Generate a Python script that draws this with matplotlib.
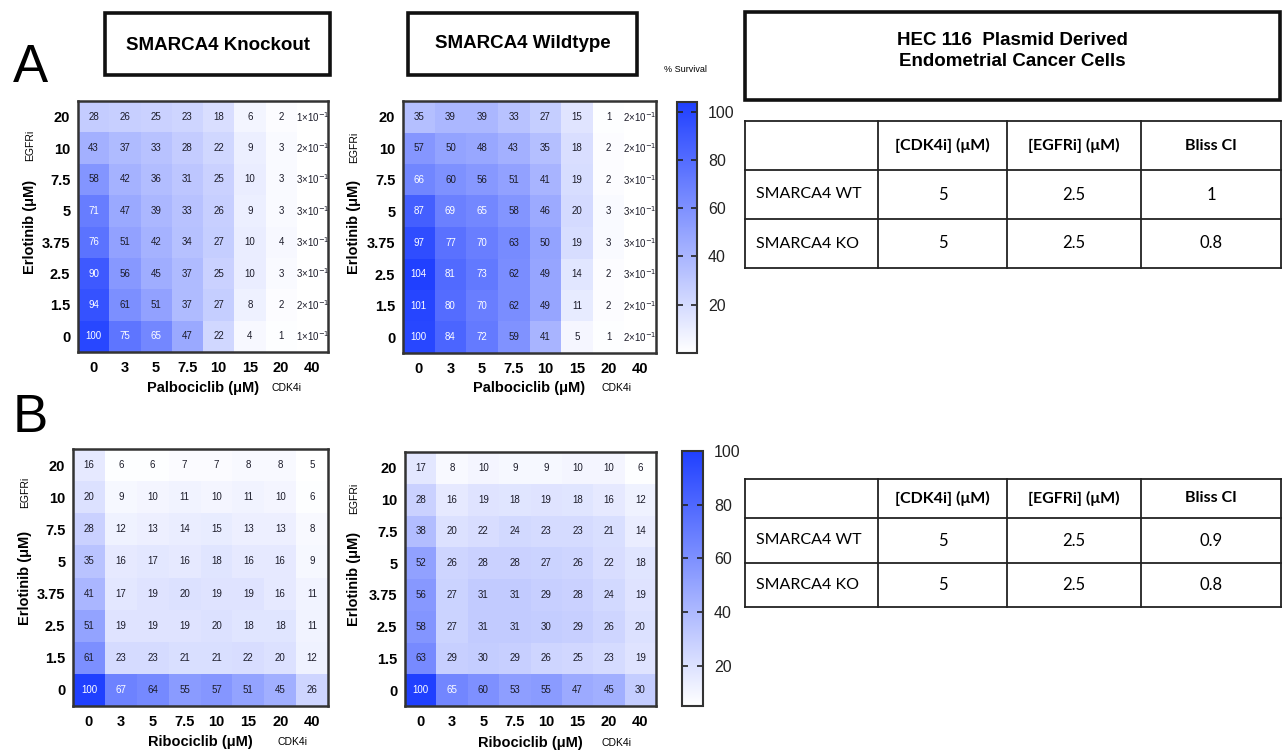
import numpy as np
import matplotlib
matplotlib.use("Agg")
import matplotlib.pyplot as plt
from matplotlib.colors import LinearSegmentedColormap, Normalize
from matplotlib.cm import ScalarMappable
from matplotlib.patches import Rectangle

# ---------------------------------------------------------------- data
cdk4_doses = ["0", "3", "5", "7.5", "10", "15", "20", "40"]
egfr_doses = ["20", "10", "7.5", "5", "3.75", "2.5", "1.5", "0"]  # top row first

# % survival, rows = erlotinib dose (top -> bottom), cols = CDK4i dose
palbo_ko = [
    [28, 26, 25, 23, 18, 6, 2, 0.1],
    [43, 37, 33, 28, 22, 9, 3, 0.2],
    [58, 42, 36, 31, 25, 10, 3, 0.3],
    [71, 47, 39, 33, 26, 9, 3, 0.3],
    [76, 51, 42, 34, 27, 10, 4, 0.3],
    [90, 56, 45, 37, 25, 10, 3, 0.3],
    [94, 61, 51, 37, 27, 8, 2, 0.2],
    [100, 75, 65, 47, 22, 4, 1, 0.1],
]
palbo_wt = [
    [35, 39, 39, 33, 27, 15, 1, 0.2],
    [57, 50, 48, 43, 35, 18, 2, 0.2],
    [66, 60, 56, 51, 41, 19, 2, 0.3],
    [87, 69, 65, 58, 46, 20, 3, 0.3],
    [97, 77, 70, 63, 50, 19, 3, 0.3],
    [104, 81, 73, 62, 49, 14, 2, 0.3],
    [101, 80, 70, 62, 49, 11, 2, 0.2],
    [100, 84, 72, 59, 41, 5, 1, 0.2],
]
ribo_ko = [
    [16, 6, 6, 7, 7, 8, 8, 5],
    [20, 9, 10, 11, 10, 11, 10, 6],
    [28, 12, 13, 14, 15, 13, 13, 8],
    [35, 16, 17, 16, 18, 16, 16, 9],
    [41, 17, 19, 20, 19, 19, 16, 11],
    [51, 19, 19, 19, 20, 18, 18, 11],
    [61, 23, 23, 21, 21, 22, 20, 12],
    [100, 67, 64, 55, 57, 51, 45, 26],
]
ribo_wt = [
    [17, 8, 10, 9, 9, 10, 10, 6],
    [28, 16, 19, 18, 19, 18, 16, 12],
    [38, 20, 22, 24, 23, 23, 21, 14],
    [52, 26, 28, 28, 27, 26, 22, 18],
    [56, 27, 31, 31, 29, 28, 24, 19],
    [58, 27, 31, 31, 30, 29, 26, 20],
    [63, 29, 30, 29, 26, 25, 23, 19],
    [100, 65, 60, 53, 55, 47, 45, 30],
]

table_header = ["", "[CDK4i] (μM)", "[EGFRi] (μM)", "Bliss CI"]
table_lines = ["SMARCA4 WT", "SMARCA4 KO"]
cdk4_used = ["5", "5"]
egfr_used = ["2.5", "2.5"]
bliss_palbo = ["1", "0.8"]
bliss_ribo = ["0.9", "0.8"]

cbar_ticks = [20, 40, 60, 80, 100]

# ---------------------------------------------------------------- figure
W, H = 1283, 751
fig = plt.figure(figsize=(W / 100, H / 100), dpi=100)
fig.patch.set_facecolor("white")

SANS = ["Liberation Sans", "DejaVu Sans"]
NARROW = ["Liberation Sans Narrow", "Liberation Sans", "DejaVu Sans"]
TABLE_FONT = ["Lato", "DejaVu Sans"]
cmap = LinearSegmentedColormap.from_list("survival", ["#ffffff", "#2040ff"])


def px_axes(x0, y0, x1, y1):
    return fig.add_axes([x0 / W, 1 - y1 / H, (x1 - x0) / W, (y1 - y0) / H])


def ftext(x, y, s, **kw):
    kw.setdefault("family", SANS)
    return fig.text(x / W, 1 - y / H, s, **kw)


def cell_label(v):
    if v < 1:
        return f"{int(round(v * 10))}×10$^{{-1}}$"
    return f"{int(round(v))}"


def heatmap(box, data, norm, drug, ylab_x, egfr_y, xlab_y, cdk_x):
    x0, y0, x1, y1 = box
    ax = px_axes(x0, y0, x1, y1)
    arr = np.asarray(data, dtype=float)
    ax.pcolormesh(np.arange(9), np.arange(9), arr, cmap=cmap, norm=norm)
    ax.set_xlim(0, 8)
    ax.set_ylim(8, 0)
    ax.set_xticks(np.arange(8) + 0.5, cdk4_doses)
    ax.set_yticks(np.arange(8) + 0.5, egfr_doses)
    ax.tick_params(axis="x", length=0, pad=6.5)
    ax.tick_params(axis="y", length=0, pad=5.5)
    for lab in ax.get_xticklabels() + ax.get_yticklabels():
        lab.set_fontfamily(SANS)
        lab.set_fontweight("bold")
        lab.set_fontsize(10.5)
    for sp in ax.spines.values():
        sp.set_linewidth(1.8)
        sp.set_color("#333333")
    for i in range(8):
        for j in range(8):
            v = arr[i, j]
            ax.text(j + 0.5, i + 0.5, cell_label(v), ha="center", va="center",
                    fontsize=7, family=SANS,
                    color="white" if v >= 64.5 else "#1c1c2a")
    ymid = (y0 + y1) / 2
    ftext(ylab_x, ymid, "Erlotinib (μM)", rotation=90, ha="center",
          va="center", fontsize=10.5, fontweight="bold")
    ftext(ylab_x, egfr_y, "EGFRi", rotation=90, ha="center", va="center",
          fontsize=7.5)
    ftext((x0 + x1) / 2, xlab_y, f"{drug} (μM)", ha="center", va="center",
          fontsize=10.5, fontweight="bold")
    ftext(cdk_x, xlab_y, "CDK4i", ha="center", va="center", fontsize=7.5)
    return ax


def colorbar(box, norm):
    cax = px_axes(*box)
    cb = fig.colorbar(ScalarMappable(norm=norm, cmap=cmap), cax=cax)
    cb.set_ticks(cbar_ticks)
    cb.outline.set_linewidth(1.5)
    cb.outline.set_edgecolor("#333333")
    cax.tick_params(direction="in", length=4, width=1.2, left=True, right=True,
                    labelsize=11.5, pad=8, colors="#222222")
    for lab in cax.get_yticklabels():
        lab.set_fontfamily(SANS)
    return cb


def boxed_title(x0, y0, x1, y1, text, ty, fontsize=13.5, spacing=1.2):
    fig.patches.append(Rectangle((x0 / W, 1 - y1 / H), (x1 - x0) / W,
                                 (y1 - y0) / H, transform=fig.transFigure,
                                 fill=False, linewidth=2.6, edgecolor="#111111"))
    ftext((x0 + x1) / 2, ty, text, ha="center", va="center",
          fontsize=fontsize, fontweight="bold", linespacing=spacing)


def bliss_table(y_lines, bliss):
    x_lines = [745, 878, 1007, 1141, 1281]
    ax = px_axes(740, y_lines[0] - 5, 1283, y_lines[-1] + 5)
    ax.set_xlim(740, 1283)
    ax.set_ylim(y_lines[-1] + 5, y_lines[0] - 5)
    ax.axis("off")
    for y in y_lines:
        ax.plot([x_lines[0], x_lines[-1]], [y, y], color="#222222", lw=1.3)
    for x in x_lines:
        ax.plot([x, x], [y_lines[0], y_lines[-1]], color="#222222", lw=1.3)
    hy = (y_lines[0] + y_lines[1]) / 2
    for k in range(1, 4):
        ax.text((x_lines[k] + x_lines[k + 1]) / 2, hy, table_header[k],
                ha="center", va="center", fontsize=11.5, fontweight="bold",
                family=TABLE_FONT)
    for r in range(2):
        ry = (y_lines[r + 1] + y_lines[r + 2]) / 2
        ax.text(x_lines[0] + 11, ry, table_lines[r], ha="left", va="center",
                fontsize=11.5, family=TABLE_FONT)
        vals = [cdk4_used[r], egfr_used[r], bliss[r]]
        for k in range(3):
            ax.text((x_lines[k + 1] + x_lines[k + 2]) / 2, ry, vals[k],
                    ha="center", va="center", fontsize=12, family=TABLE_FONT)


# ---------------------------------------------------------------- panel A
norm_a = Normalize(vmin=0, vmax=104)
heatmap((78, 101, 328, 352), palbo_ko, norm_a, "Palbociclib", 30, 145, 388, 287)
heatmap((403, 101, 656, 353), palbo_wt, norm_a, "Palbociclib", 354, 147, 388, 616)
colorbar((677, 102, 697, 353), norm_a)
ftext(685, 70, "% Survival", ha="center", va="center", fontsize=6.5)

boxed_title(105, 13, 330, 75, "SMARCA4 Knockout", 45)
boxed_title(408, 13, 637, 75, "SMARCA4 Wildtype", 43)
boxed_title(745, 12, 1280, 100, "HEC 116  Plasmid Derived\nEndometrial Cancer Cells",
            51, spacing=1.25)
ftext(30, 68, "A", ha="center", va="center", fontsize=38, family=NARROW)

bliss_table([121, 170, 219, 268], bliss_palbo)

# ---------------------------------------------------------------- panel B
norm_b = Normalize(vmin=5, vmax=100)
heatmap((73, 449, 328, 706), ribo_ko, norm_b, "Ribociclib", 25, 492, 742, 292)
heatmap((405, 452, 656, 706), ribo_wt, norm_b, "Ribociclib", 354, 498, 743, 617)
colorbar((682, 451, 703, 706), norm_b)
ftext(30, 418, "B", ha="center", va="center", fontsize=38, family=NARROW)

bliss_table([479, 518, 563, 607], bliss_ribo)

fig.savefig("out.png", dpi=100, facecolor="white")
